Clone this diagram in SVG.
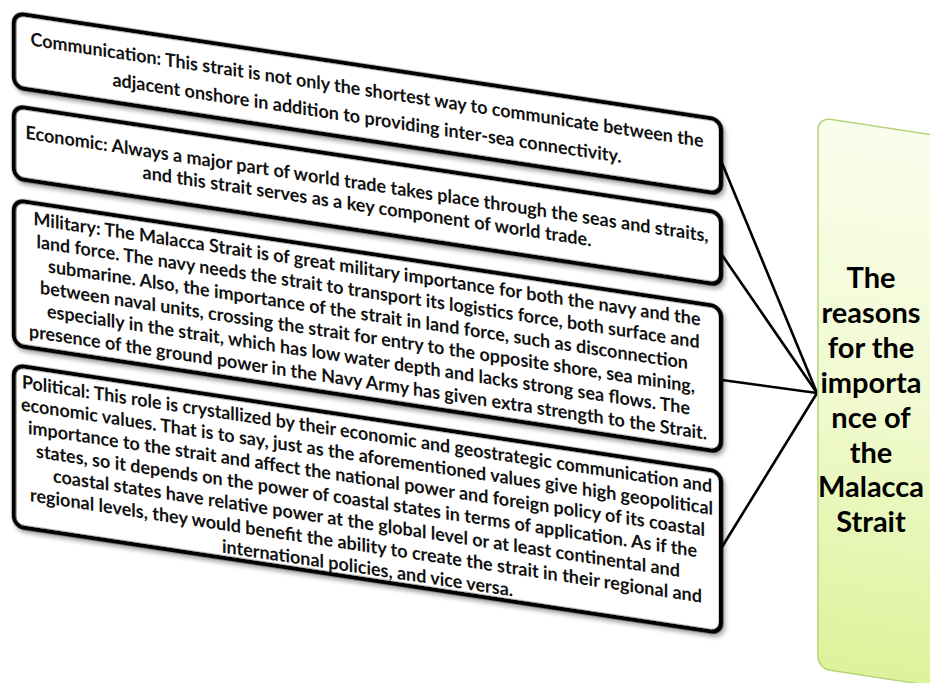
<svg xmlns="http://www.w3.org/2000/svg" width="930" height="683" viewBox="0 0 930 683">
<defs>
<style>
.box{fill:#fff;stroke:#000;stroke-width:4.5;filter:url(#sh)}
.t{font-family:Lato,"Open Sans","Liberation Sans",sans-serif;font-size:18.5px;font-weight:bold;fill:#111;text-anchor:middle}
.g{font-family:Lato,"Open Sans","Liberation Sans",sans-serif;font-size:29px;font-weight:bold;fill:#000;text-anchor:middle}
.c{stroke:#000;stroke-width:2.6;fill:none}
</style>
<filter id="sh" x="-5%" y="-20%" width="110%" height="150%">
<feDropShadow dx="2" dy="3" stdDeviation="2" flood-color="#000" flood-opacity="0.35"/>
</filter>
<linearGradient id="gg" x1="0" y1="0" x2="0" y2="1">
<stop offset="0" stop-color="#fbfdec"/>
<stop offset="0.5" stop-color="#f1fad0"/>
<stop offset="1" stop-color="#ddf29a"/>
</linearGradient>
</defs>
<g id="connectors">
<line class="c" x1="722" y1="163" x2="817" y2="393"/>
<line class="c" x1="722" y1="255" x2="817" y2="393"/>
<line class="c" x1="722" y1="380" x2="817" y2="393"/>
<line class="c" x1="722" y1="547" x2="817" y2="393"/>
</g>
<g id="hub">
<rect x="818" y="-6" width="130" height="551" rx="12" fill="url(#gg)" stroke="#b3d57a" stroke-width="1.5" transform="matrix(1 0.151 0 1 0 0)"/>
<text class="g"><tspan x="871" y="288">The</tspan><tspan x="871" y="323">reasons</tspan><tspan x="871" y="358">for the</tspan><tspan x="871" y="393">importa</tspan><tspan x="871" y="428">nce of</tspan><tspan x="871" y="463">the</tspan><tspan x="871" y="497">Malacca</tspan><tspan x="871" y="532">Strait</tspan></text>
</g>
<g transform="matrix(1 0.151 0 1 0 0)">
<g id="communication">
<rect class="box" x="14" y="11" width="707" height="74" rx="10"/>
<text class="t" x="367" y="41" textLength="673" lengthAdjust="spacingAndGlyphs">Communication: This strait is not only the shortest way to communicate between the</text>
<text class="t" x="367" y="69" textLength="509" lengthAdjust="spacingAndGlyphs">adjacent onshore in addition to providing inter-sea connectivity.</text>
</g>
<g id="economic">
<rect class="box" x="14" y="104" width="707" height="72" rx="10"/>
<text class="t" x="367" y="135" textLength="683" lengthAdjust="spacingAndGlyphs">Economic: Always a major part of world trade takes place through the seas and straits,</text>
<text class="t" x="367" y="157" textLength="449" lengthAdjust="spacingAndGlyphs">and this strait serves as a key component of world trade.</text>
</g>
<g id="military">
<rect class="box" x="14" y="198" width="707" height="145" rx="10"/>
<text class="t" x="367" y="220" textLength="667" lengthAdjust="spacingAndGlyphs">Military: The Malacca Strait is of great military importance for both the navy and the</text>
<text class="t" x="368" y="242.6" textLength="663" lengthAdjust="spacingAndGlyphs">land force. The navy needs the strait to transport its logistics force, both surface and</text>
<text class="t" x="368" y="265.2" textLength="640" lengthAdjust="spacingAndGlyphs">submarine. Also, the importance of the strait in land force, such as disconnection</text>
<text class="t" x="367.5" y="287.8" textLength="655" lengthAdjust="spacingAndGlyphs">between naval units, crossing the strait for entry to the opposite shore, sea mining,</text>
<text class="t" x="368.5" y="310.4" textLength="643" lengthAdjust="spacingAndGlyphs">especially in the strait, which has low water depth and lacks strong sea flows. The</text>
<text class="t" x="368" y="333" textLength="678" lengthAdjust="spacingAndGlyphs">presence of the ground power in the Navy Army has given extra strength to the Strait.</text>
</g>
<g id="political">
<rect class="box" x="14" y="363" width="707" height="161" rx="10"/>
<text class="t" x="367" y="385" textLength="690" lengthAdjust="spacingAndGlyphs">Political: This role is crystallized by their economic and geostrategic communication and</text>
<text class="t" x="367" y="407.3" textLength="692" lengthAdjust="spacingAndGlyphs">economic values. That is to say, just as the aforementioned values give  high geopolitical</text>
<text class="t" x="366.5" y="429.7" textLength="677" lengthAdjust="spacingAndGlyphs">importance to the strait and affect the national power and foreign policy of its coastal</text>
<text class="t" x="366.5" y="452" textLength="661" lengthAdjust="spacingAndGlyphs">states, so it depends on the power of coastal states in terms of application. As if the</text>
<text class="t" x="366.5" y="474.3" textLength="627" lengthAdjust="spacingAndGlyphs">coastal states have relative power at the global level or at least continental and</text>
<text class="t" x="366" y="496.7" textLength="672" lengthAdjust="spacingAndGlyphs">regional levels, they would benefit the ability to create the strait in their regional and</text>
<text class="t" x="367.5" y="519" textLength="291" lengthAdjust="spacingAndGlyphs">international policies, and vice versa.</text>
</g>
</g>
</svg>
